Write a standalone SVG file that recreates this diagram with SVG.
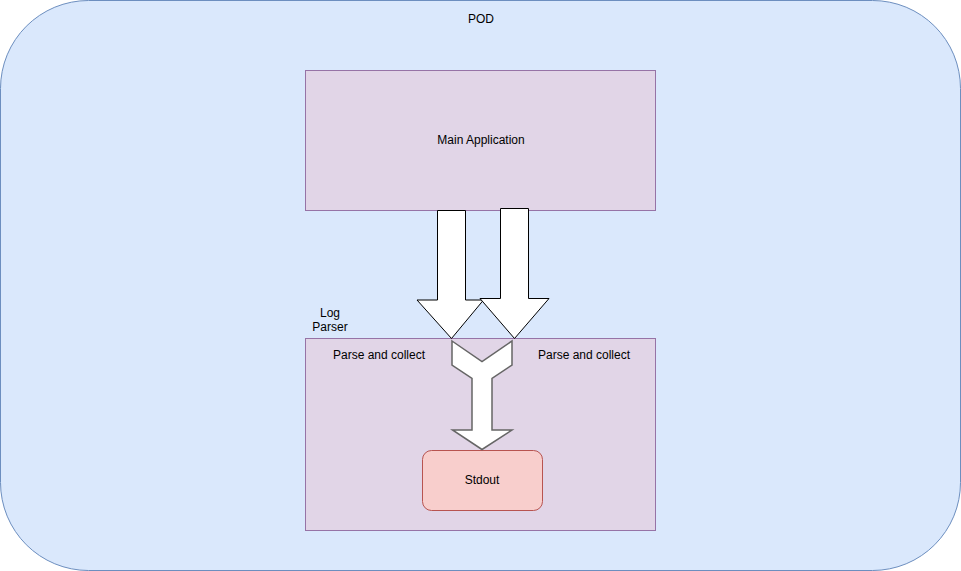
<svg xmlns="http://www.w3.org/2000/svg" width="961" height="571" viewBox="0 0 961 571">
<style>
text{font-family:"Liberation Sans",Arial,sans-serif;font-size:12px;fill:#000;text-anchor:middle}
.box{fill:#e1d5e7;stroke:#9673a6;stroke-width:1}
.arrow{fill:#fff;stroke:#000;stroke-width:1;stroke-linejoin:miter}
.merge{fill:#fff;stroke:#666;stroke-width:1.5;stroke-linejoin:miter}
</style>
<rect width="961" height="571" fill="#fff"/>
<g id="pod">
<rect x="0.5" y="0.5" width="960" height="570" rx="88" ry="88" fill="#dae8fc" stroke="#6c8ebf"/>
<text x="481" y="23">POD</text>
</g>
<g id="main-application">
<rect class="box" x="305.5" y="70.5" width="350" height="140"/>
<text x="481" y="144">Main Application</text>
</g>
<g id="log-parser">
<rect class="box" x="305.5" y="338.5" width="350" height="192"/>
<text x="330" y="317">Log</text>
<text x="330" y="331">Parser</text>
<text x="379" y="359">Parse and collect</text>
<text x="584" y="359">Parse and collect</text>
</g>
<g id="stdout">
<rect x="422.5" y="450.5" width="120" height="60" rx="9" ry="9" fill="#f8cecc" stroke="#b85450"/>
<text x="482" y="484">Stdout</text>
</g>
<g id="connectors">
<polygon class="arrow" points="437.5,210.5 465.5,210.5 465.5,300 483.5,300 451.5,338.5 417,300 437.5,300"/>
<polygon class="arrow" points="500.5,208.5 528.5,208.5 528.5,298.5 549,298.5 514.5,338.5 480,298.5 500.5,298.5"/>
<polygon class="merge" points="452,341 482,361.5 512,341 512,365 492,378.5 492,430 512,430 482,449.5 452.5,430 472,430 472,378.5 452,365"/>
</g>
</svg>
